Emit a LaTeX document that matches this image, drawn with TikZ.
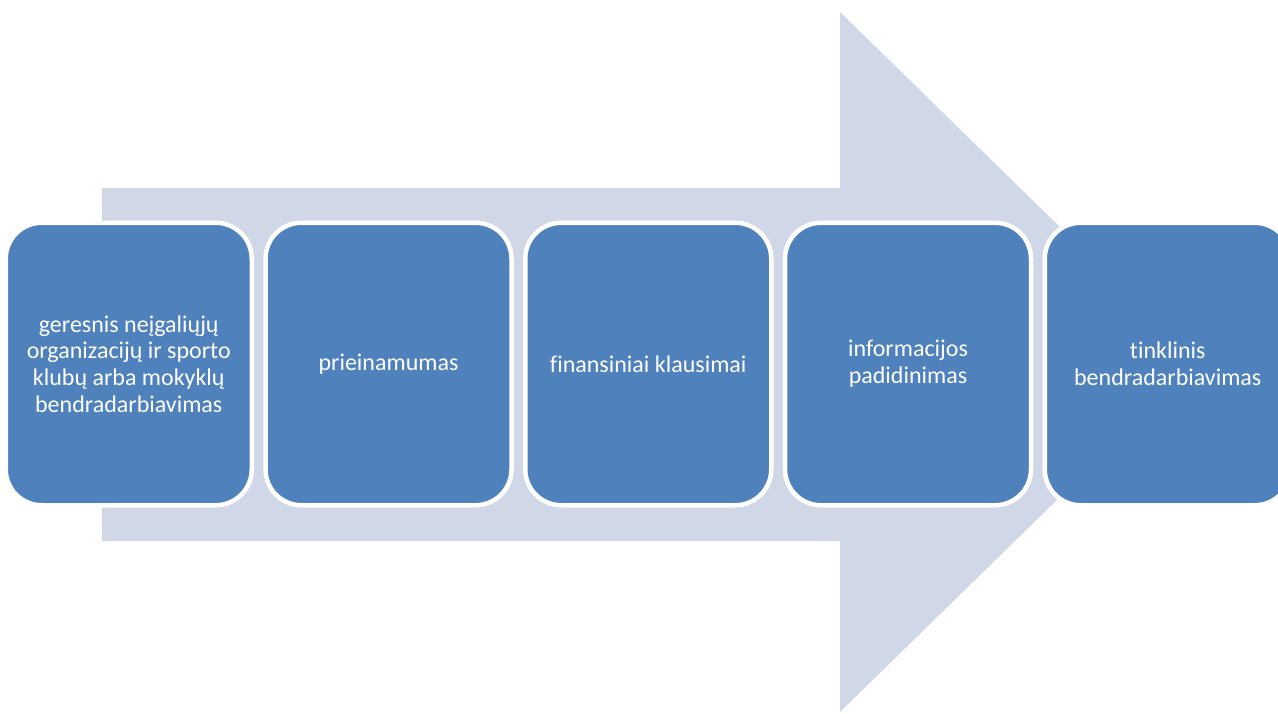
\documentclass[tikz,border=0pt]{standalone}
\usepackage{fontspec}
\setmainfont[Ligatures=NoCommon]{Carlito}
\usetikzlibrary{positioning}
\definecolor{arrowgray}{RGB}{208,216,232}
\definecolor{stepblue}{RGB}{79,129,189}
\tikzstyle{bigarrow}=[fill=arrowgray,draw=none]
\tikzstyle{stepbox}=[rectangle,rounded corners=36pt,fill=stepblue,draw=white,
                line width=4.5pt,outer sep=0pt,inner sep=0pt,minimum width=246pt,
                minimum height=282.5pt,text=white,align=center,
                font=\fontsize{24}{26.7}\selectfont]

\begin{document}
\begin{tikzpicture}[x=1pt,y=-1pt,node distance=13.75pt]
\useasboundingbox (0,0) rectangle (1278,713);

% % % % % % % % % % % % % % %

\coordinate (A) at (102,188);
\coordinate (B) at (840,188);
\coordinate (C) at (840,12);
\coordinate (D) at (1198,362);
\coordinate (E) at (840,712);
\coordinate (F) at (840,541);
\coordinate (G) at (102,541);
\fill[bigarrow](A)--(B)--(C)--(D)--(E)--(F)--(G)--cycle;

\node[stepbox] (s1) at (128.75,364) {geresnis neįgaliųjų\\organizacijų ir sporto\\klubų arba mokyklų\\bendradarbiavimas};
\node[stepbox,right=of s1] (s2) {prieinamumas};
\node[stepbox,right=of s2] (s3) {finansiniai klausimai};
\node[stepbox,right=of s3] (s4) {informacijos\\padidinimas};
\node[stepbox,right=of s4] (s5) {tinklinis\\bendradarbiavimas};

\end{tikzpicture}
\end{document}
